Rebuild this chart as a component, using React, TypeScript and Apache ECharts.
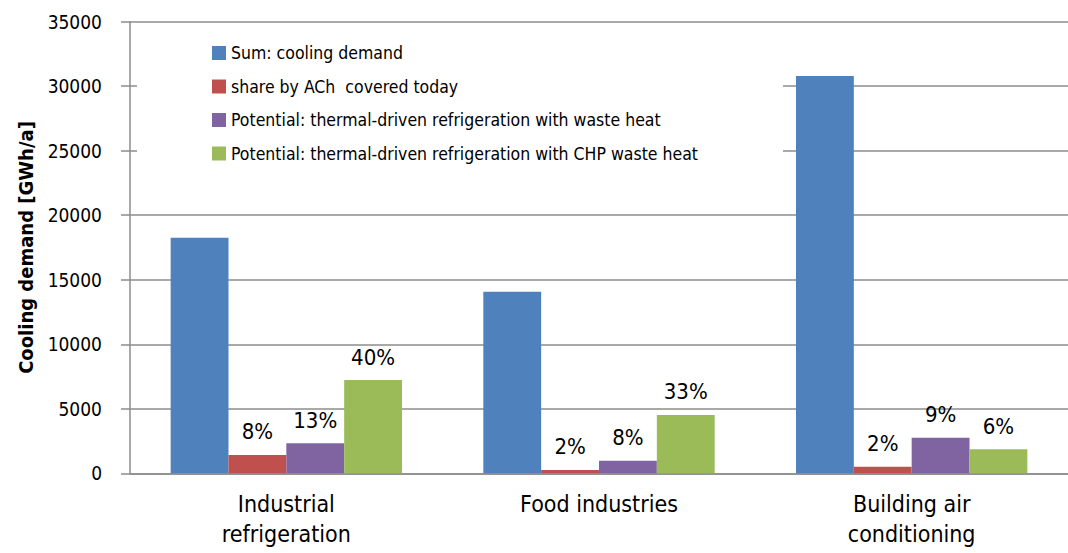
import React, { useEffect, useRef } from "react";
import * as echarts from "echarts";

const categories = ["Industrial\nrefrigeration", "Food industries", "Building air\nconditioning"];
const seriesNames = [
  "Sum: cooling demand",
  "share by ACh  covered today",
  "Potential: thermal-driven refrigeration with waste heat",
  "Potential: thermal-driven refrigeration with CHP waste heat",
];
const sumDemand = [18250, 14080, 30790];
const shareACh = [1420, 260, 510];
const potentialWaste = [2330, 980, 2760];
const potentialCHP = [7230, 4520, 1860];
const shareLabels = ["8%", "2%", "2%"];
const wasteLabels = ["13%", "8%", "9%"];
const chpLabels = ["40%", "33%", "6%"];
const yMin = 0;
const yMax = 35000;
const yInterval = 5000;
const yAxisName = "Cooling demand [GWh/a]";

const colors = ["#4F81BD", "#C0504D", "#8064A2", "#9BBB59"];
const gridColor = "#8c8c8c";
const cond = "'DejaVu Sans Condensed', 'DejaVu Sans', sans-serif";

export default function App() {
  const ref = useRef<HTMLDivElement>(null);
  useEffect(() => {
    if (!ref.current) return;
    const chart = echarts.init(ref.current, null, { renderer: "svg" });
    const pctLabel = (arr: string[]) => ({
      show: true,
      position: "top" as const,
      distance: 12,
      fontFamily: cond,
      fontSize: 22,
      color: "#000",
      formatter: (p: any) => arr[p.dataIndex],
    });
    const datas = [sumDemand, shareACh, potentialWaste, potentialCHP];
    const labels = [null, shareLabels, wasteLabels, chpLabels];
    chart.setOption({
      animation: false,
      backgroundColor: "#fff",
      color: colors,
      grid: { left: 130, right: 0, top: 21.7, bottom: 79.7, containLabel: false },
      legend: {
        show: true,
        orient: "vertical",
        left: 212,
        top: 43,
        padding: 0,
        itemWidth: 14,
        itemHeight: 14,
        itemGap: 13.5,
        icon: "rect",
        data: seriesNames,
        textStyle: { fontFamily: cond, fontSize: 17.5, lineHeight: 20, color: "#000" },
      },
      graphic: [
        {
          type: "rect",
          z: 1,
          shape: { x: 137, y: 30, width: 646, height: 140 },
          style: { fill: "#fff" },
          silent: true,
        },
      ],
      xAxis: {
        type: "category",
        data: categories,
        axisTick: { show: false },
        axisLine: { lineStyle: { color: gridColor, width: 1.5 } },
        axisLabel: {
          interval: 0,
          margin: 16,
          fontFamily: cond,
          fontSize: 23,
          lineHeight: 30,
          color: "#000",
        },
      },
      yAxis: {
        type: "value",
        min: yMin,
        max: yMax,
        interval: yInterval,
        name: yAxisName,
        nameLocation: "middle",
        nameGap: 94,
        nameTextStyle: { fontFamily: cond, fontSize: 20, fontWeight: "bold", color: "#000" },
        axisLine: { show: true, lineStyle: { color: gridColor, width: 1.5 } },
        axisTick: { show: true, length: 9, lineStyle: { color: gridColor, width: 1.5 } },
        splitLine: { show: true, lineStyle: { color: gridColor, width: 1.5 } },
        axisLabel: {
          margin: 28,
          fontFamily: cond,
          fontSize: 19,
          color: "#000",
          formatter: (v: number) => String(v),
        },
      },
      series: datas.map((d, i) => ({
        type: "bar",
        name: seriesNames[i],
        data: d,
        barGap: "0%",
        barCategoryGap: "26%",
        itemStyle: { color: colors[i] },
        label: labels[i] ? pctLabel(labels[i] as string[]) : { show: false },
      })),
    });
    return () => chart.dispose();
  }, []);
  return (
    <div
      ref={ref}
      style={{ position: "fixed", left: 0, top: 0, width: 1068, height: 553, background: "#fff" }}
    />
  );
}
